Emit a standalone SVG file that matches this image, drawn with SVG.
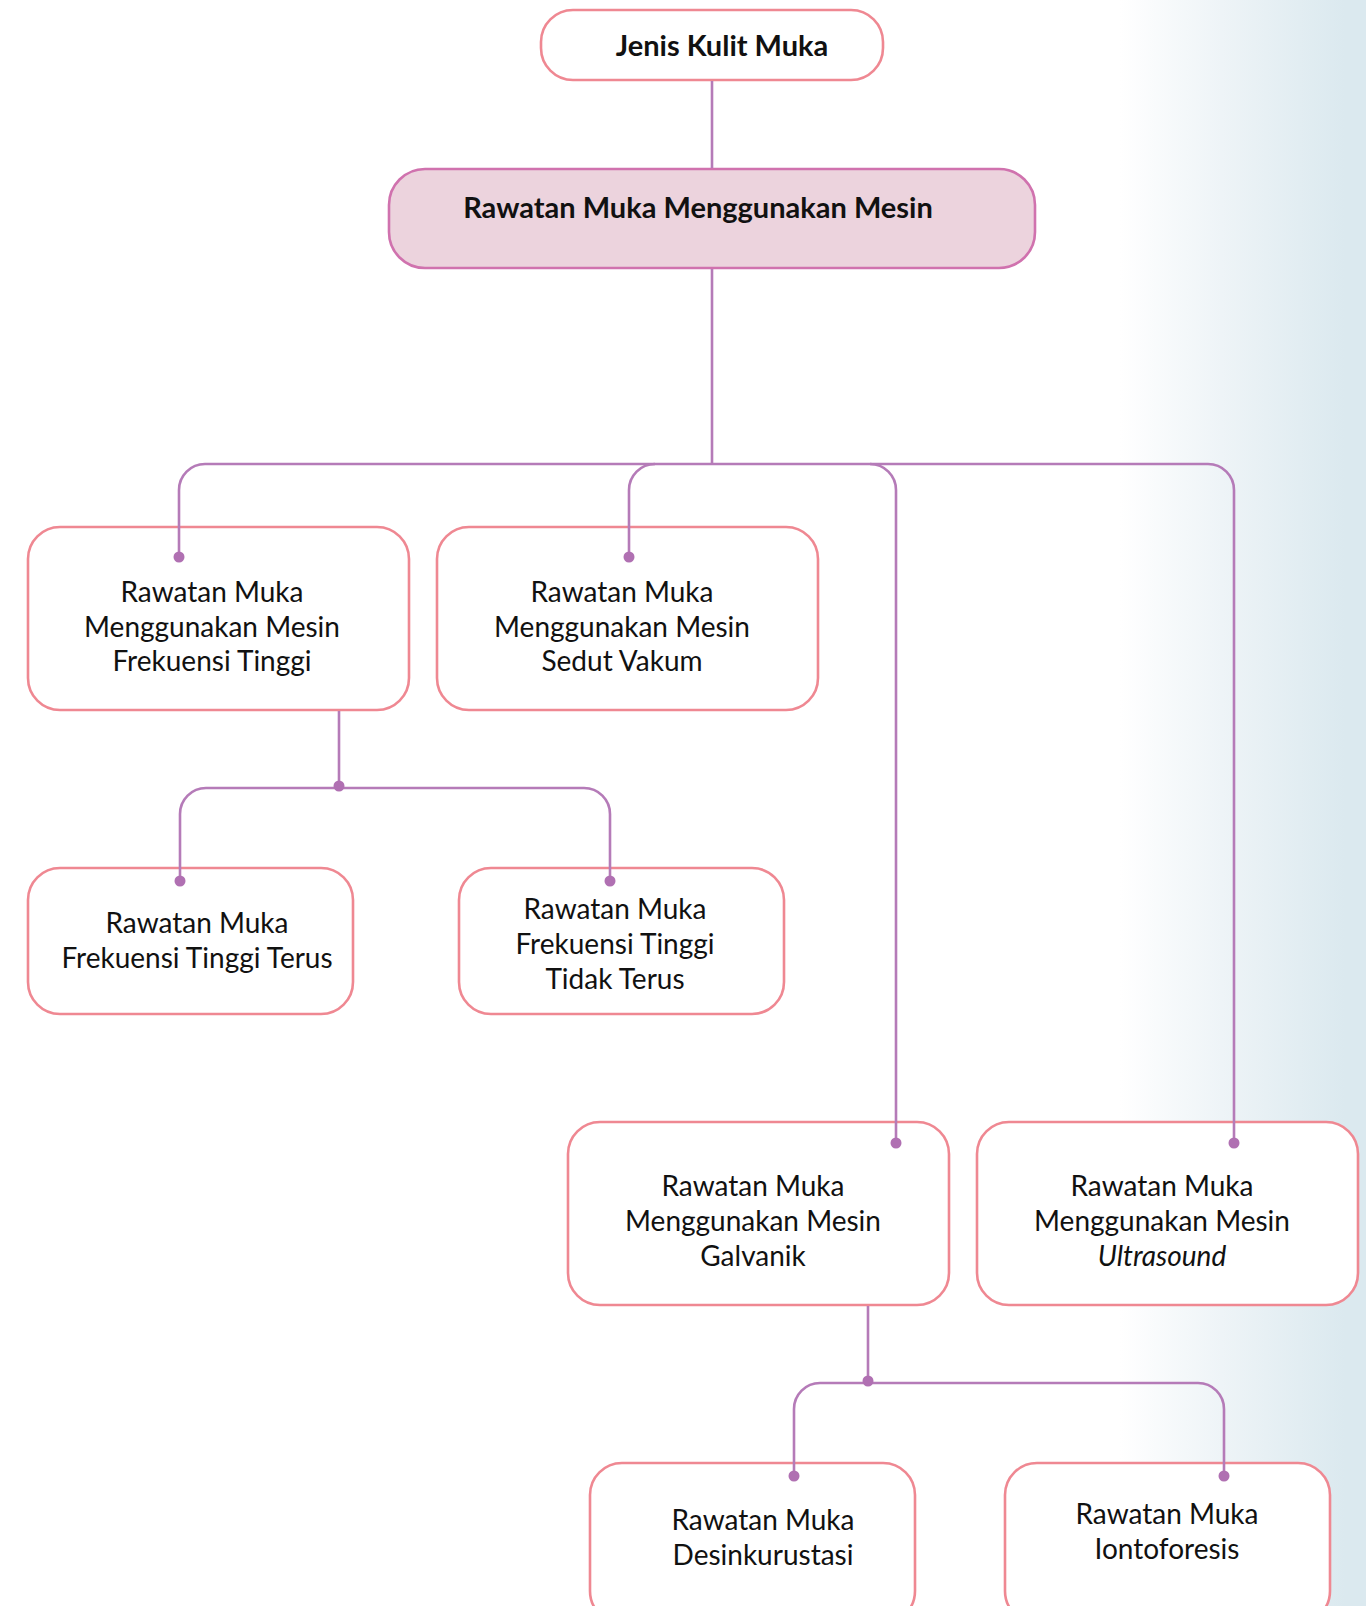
<svg xmlns="http://www.w3.org/2000/svg" width="1366" height="1606" viewBox="0 0 1366 1606">
<defs>
<linearGradient id="bg" gradientUnits="userSpaceOnUse" x1="1120" y1="0" x2="1345" y2="0">
<stop offset="0" stop-color="#ffffff"/>
<stop offset="0.45" stop-color="#eef4f7"/>
<stop offset="1" stop-color="#dbe9ef"/>
</linearGradient>
<style>
.box{fill:#ffffff;stroke:#ef8892;stroke-width:2.6}
.main{fill:#ecd3dd;stroke:#d072ae;stroke-width:2.6}
.t{font-family:Lato,"Open Sans","Liberation Sans",sans-serif;font-size:28px;fill:#111;text-anchor:middle}
.b{font-family:Lato,"Open Sans","Liberation Sans",sans-serif;font-size:29px;font-weight:bold;fill:#111;text-anchor:middle}
.c{fill:none;stroke:#b57bb8;stroke-width:2.6}
.d{fill:#b070b2}
</style>
</defs>
<rect x="0" y="0" width="1366" height="1606" fill="url(#bg)"/>

<g id="jenis">
<rect class="box" x="541" y="10" width="342" height="70" rx="32"/>
<text class="b" x="722" y="56">Jenis Kulit Muka</text>
</g>
<g id="mesin">
<rect class="main" x="389" y="169" width="646" height="99" rx="36"/>
<text class="b" x="698" y="218">Rawatan Muka Menggunakan Mesin</text>
</g>
<g id="frekuensi">
<rect class="box" x="28" y="527" width="381" height="183" rx="32"/>
<text class="t" x="212" y="602">Rawatan Muka</text>
<text class="t" x="212" y="637">Menggunakan Mesin</text>
<text class="t" x="212" y="671">Frekuensi Tinggi</text>
</g>
<g id="vakum">
<rect class="box" x="437" y="527" width="381" height="183" rx="32"/>
<text class="t" x="622" y="602">Rawatan Muka</text>
<text class="t" x="622" y="637">Menggunakan Mesin</text>
<text class="t" x="622" y="671">Sedut Vakum</text>
</g>
<g id="terus">
<rect class="box" x="28" y="868" width="325" height="146" rx="32"/>
<text class="t" x="197" y="933">Rawatan Muka</text>
<text class="t" x="197" y="968">Frekuensi Tinggi Terus</text>
</g>
<g id="tidakterus">
<rect class="box" x="459" y="868" width="325" height="146" rx="32"/>
<text class="t" x="615" y="919">Rawatan Muka</text>
<text class="t" x="615" y="954">Frekuensi Tinggi</text>
<text class="t" x="615" y="989">Tidak Terus</text>
</g>
<g id="galvanik">
<rect class="box" x="568" y="1122" width="381" height="183" rx="32"/>
<text class="t" x="753" y="1196">Rawatan Muka</text>
<text class="t" x="753" y="1231">Menggunakan Mesin</text>
<text class="t" x="753" y="1266">Galvanik</text>
</g>
<g id="ultrasound">
<rect class="box" x="977" y="1122" width="381" height="183" rx="32"/>
<text class="t" x="1162" y="1196">Rawatan Muka</text>
<text class="t" x="1162" y="1231">Menggunakan Mesin</text>
<text class="t" x="1162" y="1266" font-style="italic">Ultrasound</text>
</g>
<g id="desinkurustasi">
<rect class="box" x="590" y="1463" width="325" height="160" rx="32"/>
<text class="t" x="763" y="1530">Rawatan Muka</text>
<text class="t" x="763" y="1565">Desinkurustasi</text>
</g>
<g id="iontoforesis">
<rect class="box" x="1005" y="1463" width="325" height="160" rx="32"/>
<text class="t" x="1167" y="1524">Rawatan Muka</text>
<text class="t" x="1167" y="1559">Iontoforesis</text>
</g>

<g id="connectors">
<path class="c" d="M712 81 V168"/>
<path class="c" d="M712 269 V464"/>
<path class="c" d="M179 557 V490 A26 26 0 0 1 205 464 H1208 A26 26 0 0 1 1234 490 V1143"/>
<path class="c" d="M629 557 V490 A26 26 0 0 1 655 464"/>
<path class="c" d="M870 464 A26 26 0 0 1 896 490 V1143"/>
<path class="c" d="M339 711 V788"/>
<path class="c" d="M180 881 V814 A26 26 0 0 1 206 788 H584 A26 26 0 0 1 610 814 V881"/>
<path class="c" d="M868 1306 V1383"/>
<path class="c" d="M794 1476 V1409 A26 26 0 0 1 820 1383 H1198 A26 26 0 0 1 1224 1409 V1476"/>
<circle class="d" cx="179" cy="557" r="5.5"/>
<circle class="d" cx="629" cy="557" r="5.5"/>
<circle class="d" cx="896" cy="1143" r="5.5"/>
<circle class="d" cx="1234" cy="1143" r="5.5"/>
<circle class="d" cx="339" cy="786" r="5.5"/>
<circle class="d" cx="180" cy="881" r="5.5"/>
<circle class="d" cx="610" cy="881" r="5.5"/>
<circle class="d" cx="868" cy="1381" r="5.5"/>
<circle class="d" cx="794" cy="1476" r="5.5"/>
<circle class="d" cx="1224" cy="1476" r="5.5"/>
</g>
</svg>
